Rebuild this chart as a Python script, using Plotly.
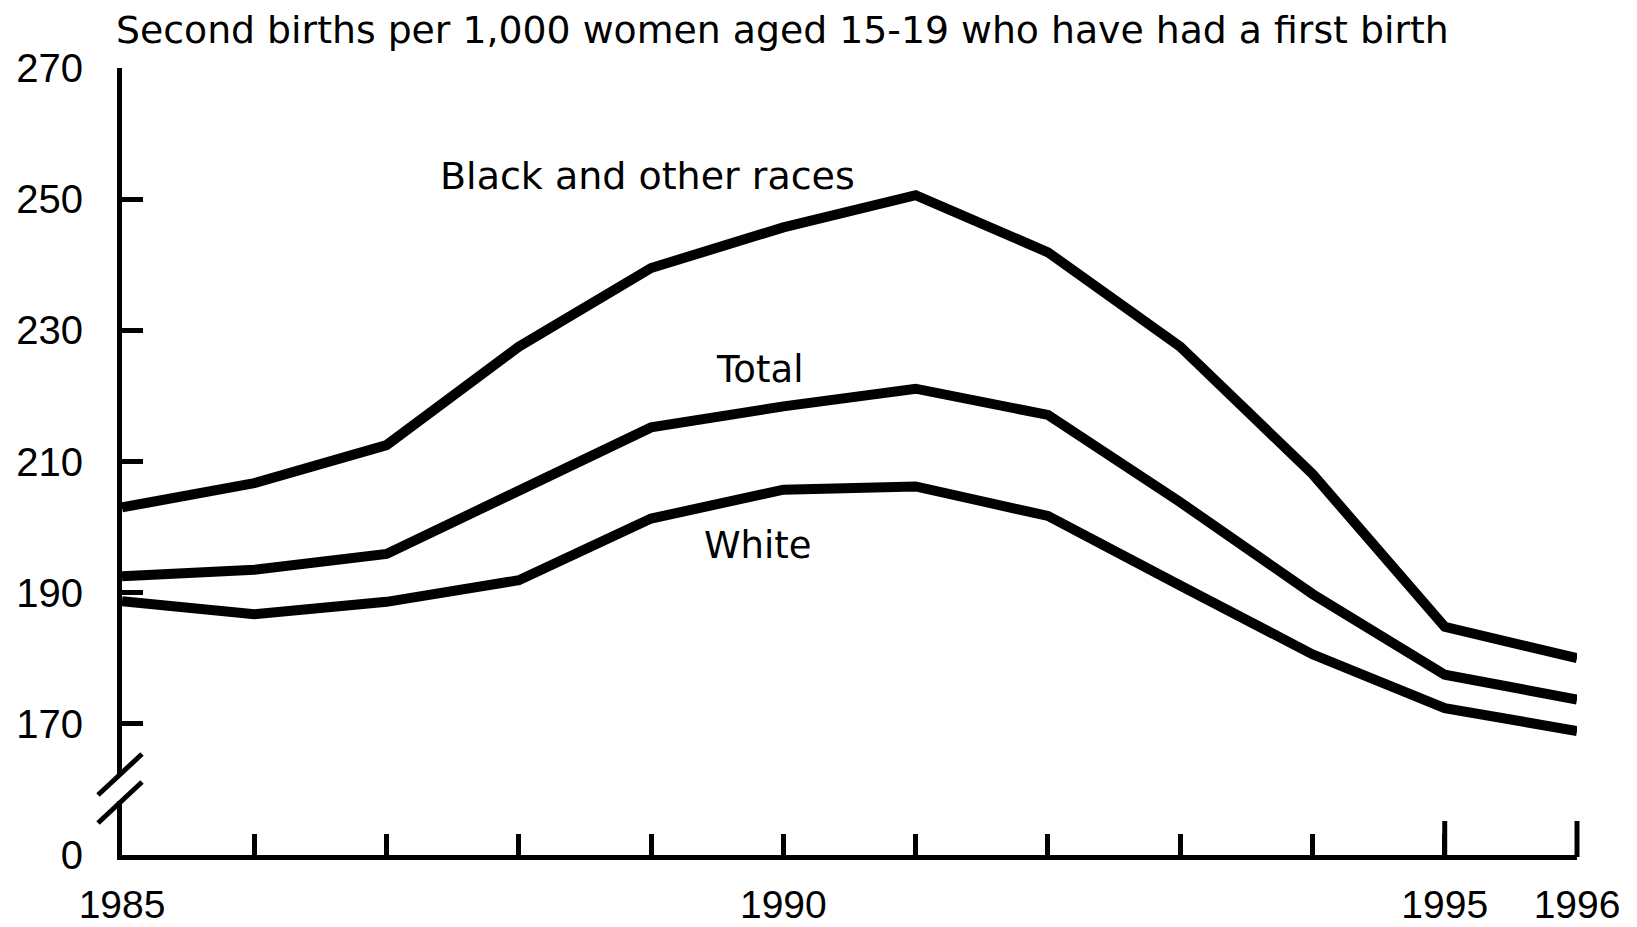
import plotly.graph_objects as go

years = list(range(1985, 1997))
black_other = [203.0, 206.7, 212.5, 227.5, 239.5, 245.7, 250.6, 241.9, 227.5, 208.1, 184.8, 180.0]
total = [192.5, 193.5, 195.9, 205.6, 215.2, 218.4, 221.1, 217.1, 203.8, 189.8, 177.5, 173.7]
white = [188.7, 186.7, 188.6, 191.9, 201.3, 205.7, 206.2, 201.7, 191.1, 180.6, 172.4, 168.9]

series_names = ["Black and other races", "Total", "White"]
series_values = [black_other, total, white]
label_x = [1988.975, 1989.82, 1989.81]
label_y = [253.5, 224.1, 197.2]

y_tickvals = [150, 170, 190, 210, 230, 250, 270]
y_ticktext = ["0", "170", "190", "210", "230", "250", "270"]
x_tickvals = [1985, 1990, 1995, 1996]
x_ticktext = ["1985", "1990", "1995", "1996"]
title_text = "Second births per 1,000 women aged 15-19 who have had a first birth"

# page has an 8px body margin, so the figure is shifted by it
OFF = 8
W, H = 1637 - 2 * OFF, 927 - OFF
L, R, T, B = 114, 52, 60, 72
PW, PH = W - L - R, H - T - B
TICKFONT = "Liberation Sans"
TEXTFONT = "DejaVu Sans"


def px(X):
    return (X - OFF - L) / PW


def py(Y):
    return (H - B - (Y - OFF)) / PH


fig = go.Figure()
for name, vals in zip(series_names, series_values):
    fig.add_trace(go.Scatter(x=years, y=vals, mode="lines", name=name, hoverinfo="skip",
                             line=dict(color="black", width=10), showlegend=False))

for name, lx, ly in zip(series_names, label_x, label_y):
    fig.add_annotation(x=lx, y=ly, xref="x", yref="y", text=name, showarrow=False,
                       font=dict(family=TEXTFONT, size=38 if name.startswith("Black") else 37,
                                 color="black"))

fig.add_annotation(x=px(114), y=py(30), xref="paper", yref="paper", text=title_text,
                   showarrow=False, xanchor="left", yanchor="middle",
                   font=dict(family=TEXTFONT, size=37.8, color="black"))

shapes = []
# longer ticks for 1995 and 1996
for yr in [1995, 1996]:
    xx = (yr - 1985) / 11
    shapes.append(dict(type="line", xref="paper", yref="paper", x0=xx, x1=xx,
                       y0=py(857), y1=py(821), line=dict(color="black", width=5)))
# axis break
shapes.append(dict(type="line", xref="paper", yref="paper", x0=px(119.5), x1=px(119.5),
                   y0=py(774), y1=py(801), line=dict(color="white", width=9)))
for (x0, y0, x1, y1) in [(98, 795, 142, 754), (98, 823, 142, 782)]:
    shapes.append(dict(type="line", xref="paper", yref="paper", x0=px(x0), x1=px(x1),
                       y0=py(y0), y1=py(y1), line=dict(color="black", width=5)))

fig.update_layout(
    width=W, height=H,
    margin=dict(l=L, r=R, t=T, b=B),
    paper_bgcolor="white", plot_bgcolor="white",
    shapes=shapes,
    font=dict(family=TICKFONT, color="black"),
    xaxis=dict(range=[1985, 1996], showgrid=False, zeroline=False, showline=True, automargin=False,
               linecolor="black", linewidth=5, ticks="inside", ticklen=21, tickwidth=5,
               tickcolor="black", tickmode="array", tickvals=years,
               ticktext=[x_ticktext[x_tickvals.index(y)] if y in x_tickvals else "" for y in years],
               tickfont=dict(family=TICKFONT, size=39, color="black"), ticklabelstandoff=11),
    yaxis=dict(range=[150, 270], showgrid=False, zeroline=False, showline=True, automargin=False,
               linecolor="black", linewidth=5, ticks="inside", ticklen=21, tickwidth=5,
               tickcolor="black", tickmode="array", tickvals=y_tickvals, ticktext=y_ticktext,
               tickfont=dict(family=TICKFONT, size=40, color="black"), ticklabelstandoff=26),
)

fig.write_html("out.html")
